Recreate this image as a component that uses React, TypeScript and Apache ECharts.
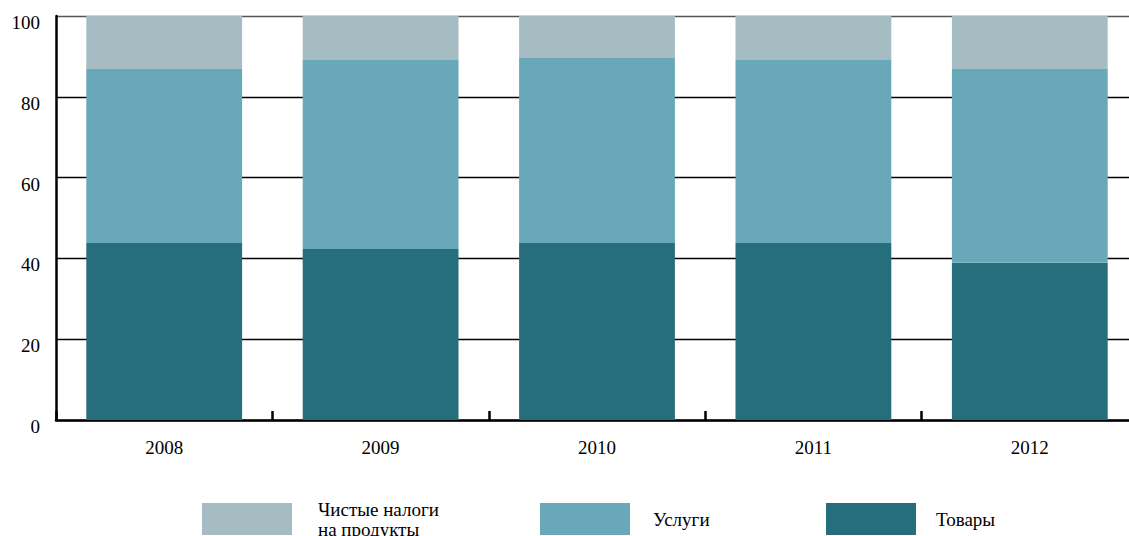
import React, { useEffect, useRef } from "react";
import * as echarts from "echarts";

const years = ["2008", "2009", "2010", "2011", "2012"];
const goods = [43.8, 42.3, 43.8, 43.8, 38.9];
const services = [43.1, 46.8, 45.8, 45.3, 48.0];
const taxes = [13.1, 10.9, 10.4, 10.9, 13.1];
const yTicks = [0, 20, 40, 60, 80, 100];

const nameTaxes = "Чистые налоги\nна продукты";
const nameServices = "Услуги";
const nameGoods = "Товары";

const FONT = "'Liberation Serif', 'Times New Roman', serif";

export default function App() {
  const ref = useRef<HTMLDivElement>(null);
  useEffect(() => {
    if (!ref.current) return;
    const chart = echarts.init(ref.current, undefined, { renderer: "svg" });
    const legendBase = (pad: number) => ({
      orient: "horizontal" as const,
      padding: 0,
      itemWidth: 90,
      itemHeight: 32,
      icon: "rect",
      selectedMode: false,
      textStyle: {
        fontFamily: FONT,
        fontSize: 19,
        color: "#000",
        lineHeight: 20,
        padding: [0, 0, 0, pad],
      },
    });
    chart.setOption({
      animation: false,
      backgroundColor: "#fff",
      textStyle: { fontFamily: FONT },
      grid: { left: 56, top: 16, bottom: 116, right: 0, containLabel: false },
      legend: [
        { ...legendBase(21), data: [nameTaxes], left: 202, top: 499 },
        { ...legendBase(18), data: [nameServices], left: 540, top: 503 },
        { ...legendBase(15), data: [nameGoods], left: 826, top: 503 },
      ],
      xAxis: {
        type: "category",
        data: years,
        axisLine: { show: true, lineStyle: { color: "#000", width: 2.5 } },
        axisTick: { show: true, inside: true, length: 9, lineStyle: { color: "#000", width: 2.5 } },
        axisLabel: {
          fontFamily: FONT,
          fontSize: 19,
          color: "#000",
          margin: 18,
        },
        splitLine: { show: false },
      },
      yAxis: {
        type: "value",
        min: yTicks[0],
        max: yTicks[yTicks.length - 1],
        interval: 20,
        axisLine: { show: true, lineStyle: { color: "#000", width: 2.5 } },
        axisTick: { show: false },
        axisLabel: {
          color: "#000",
          margin: 16,
          formatter: "{v|{value}}",
          rich: {
            v: {
              fontFamily: FONT,
              fontSize: 19,
              color: "#000",
              padding: [13, 0, 0, 0],
            },
          },
        },
        splitLine: {
          show: true,
          lineStyle: {
            color: ["#000", "#000", "#000", "#000", "#000", "#555"],
            width: 1.4,
          },
        },
      },
      series: [
        {
          name: nameGoods,
          type: "bar",
          stack: "total",
          data: goods,
          barCategoryGap: "28%",
          itemStyle: { color: "#276E7C" },
        },
        {
          name: nameServices,
          type: "bar",
          stack: "total",
          data: services,
          barCategoryGap: "28%",
          itemStyle: { color: "#68A8B9" },
        },
        {
          name: nameTaxes,
          type: "bar",
          stack: "total",
          data: taxes,
          barCategoryGap: "28%",
          itemStyle: { color: "#A5BDC2" },
        },
      ],
    });
    return () => chart.dispose();
  }, []);
  return (
    <div
      ref={ref}
      style={{ position: "fixed", left: 0, top: 0, width: 1138, height: 536, background: "#fff" }}
    />
  );
}
